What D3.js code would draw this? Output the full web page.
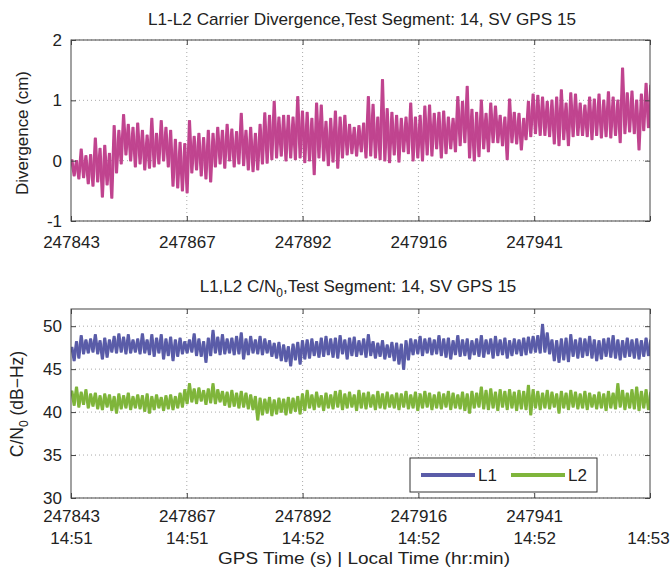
<!DOCTYPE html>
<html>
<head>
<meta charset="utf-8">
<script src="https://cdn.jsdelivr.net/npm/d3@7"></script>
<style>
  body { margin: 0; background: #fff; }
  text { font-family: "Liberation Sans", Arial, sans-serif; fill: #222; }
</style>
</head>
<body>
<div class="root"></div>
<script>
// GPS time of first sample (s); one high and one low reading per second
const t0 = 247843;

// L1-L2 carrier divergence (cm), upper / lower swing for each second
const divHigh = [0.02, 0.0, 0.19, 0.08, 0.1, 0.37, 0.2, 0.25, 0.12, 0.58,
  0.5, 0.76, 0.6, 0.55, 0.62, 0.5, 0.42, 0.7, 0.45, 0.66,
  0.55, 0.5, 0.35, 0.3, 0.28, 0.66, 0.4, 0.45, 0.38, 0.5,
  0.45, 0.55, 0.5, 0.6, 0.52, 0.48, 0.78, 0.5, 0.55, 0.45,
  0.6, 0.79, 0.75, 0.98, 0.72, 0.75, 0.75, 0.72, 1.06, 0.82,
  0.8, 0.7, 0.95, 0.92, 0.65, 0.7, 0.82, 0.72, 0.75, 0.6,
  0.55, 0.58, 0.62, 1.06, 0.93, 0.72, 1.34, 0.86, 0.8, 0.75,
  0.7, 0.72, 0.95, 0.72, 0.75, 0.9, 0.92, 0.78, 0.8, 0.82,
  0.72, 0.7, 1.06, 0.98, 1.23, 0.85, 0.8, 1.0, 0.78, 0.95,
  0.9, 0.75, 0.72, 1.02, 0.8, 0.78, 0.7, 0.98, 1.1, 1.08,
  1.05, 0.98, 1.0, 1.05, 1.17, 0.95, 1.12, 1.1, 0.95, 0.92,
  1.05, 1.02, 1.1, 1.0, 1.14, 1.05, 1.0, 1.53, 1.12, 1.15,
  1.0, 1.1, 1.28, 1.25];
const divLow = [-0.25, -0.3, -0.28, -0.38, -0.42, -0.35, -0.6, -0.4, -0.62, -0.2,
  -0.05, 0.1, 0.0, -0.1, -0.05, -0.15, -0.12, -0.1, -0.05, 0.0,
  -0.1, -0.42, -0.45, -0.5, -0.53, -0.2, -0.15, -0.25, -0.3, -0.35,
  -0.1, -0.05, -0.12, 0.0, -0.1, -0.05, -0.08, -0.15, -0.18, -0.15,
  -0.05, -0.04, 0.02, 0.05, 0.08, 0.0, 0.05, 0.02, 0.05, -0.03,
  0.0, -0.23, 0.05, 0.0, -0.08, -0.02, -0.12, 0.05, 0.1, 0.12,
  0.08, 0.15, 0.05, 0.08, 0.05, 0.02, 0.0, -0.03, 0.1, -0.02,
  0.15, 0.12, 0.0, 0.05, 0.0, 0.1, 0.08, 0.2, 0.05, 0.12,
  0.2, 0.15, 0.25, 0.3, 0.05, 0.0, 0.07, 0.2, 0.15, 0.3,
  0.3, 0.25, 0.02, 0.3, 0.28, 0.18, 0.35, 0.4, 0.45, 0.42,
  0.42, 0.4, 0.28, 0.25, 0.35, 0.25, 0.4, 0.42, 0.42, 0.4,
  0.35, 0.42, 0.38, 0.4, 0.38, 0.42, 0.3, 0.45, 0.48, 0.45,
  0.18, 0.5, 0.55, 0.6];

// C/N0 (dB-Hz), upper / lower swing for each second
const l1High = [47.6, 48.2, 48.9, 48.4, 48.5, 49.0, 48.3, 48.6, 48.4, 48.8,
  49.1, 48.7, 49.0, 48.4, 48.5, 49.1, 48.4, 49.0, 48.6, 49.0,
  48.5, 48.7, 48.4, 48.6, 48.2, 48.4, 49.1, 48.5, 48.2, 48.6,
  49.5, 48.7, 49.0, 48.5, 48.6, 48.8, 49.2, 48.5, 48.8, 48.4,
  48.8, 48.5, 48.3, 48.0, 48.1, 47.8, 47.6, 47.9, 48.1, 48.3,
  48.4, 48.5, 48.2, 48.6, 48.8, 48.5, 48.6, 48.9, 48.4, 48.6,
  48.7, 48.3, 48.5, 49.0, 48.2, 48.0, 48.3, 47.8, 48.1, 48.0,
  47.9, 48.3, 48.5, 48.4, 48.8, 48.5, 48.6, 48.4, 48.9, 48.5,
  48.6, 48.3, 48.9, 48.4, 48.5, 48.3, 48.5, 48.9, 48.4, 48.5,
  48.8, 48.4, 48.6, 48.3, 48.5, 48.4, 48.6, 48.7, 48.8, 48.9,
  50.2, 49.2, 48.4, 48.3, 48.5, 48.6, 49.0, 48.4, 48.6, 48.5,
  48.8, 48.4, 48.3, 48.5, 48.6, 48.9, 48.4, 48.3, 48.6, 48.4,
  48.5, 48.3, 48.6, 48.4];
const l1Low = [46.0, 46.3, 46.8, 46.9, 47.0, 46.8, 46.2, 46.4, 47.0, 46.9,
  47.0, 46.8, 46.9, 47.0, 46.8, 46.9, 46.7, 46.5, 46.9, 46.2,
  46.6, 46.0, 46.5, 46.8, 46.9, 47.0, 46.6, 46.5, 45.8, 46.6,
  46.9, 46.7, 46.8, 46.9, 46.7, 46.8, 46.2, 46.7, 46.9, 46.8,
  46.7, 46.9, 46.5, 46.3, 46.0, 45.9, 45.4, 46.1, 45.6, 46.2,
  46.3, 46.6, 46.4, 46.5, 46.7, 46.4, 46.3, 46.8, 46.2, 46.6,
  46.5, 46.7, 46.4, 46.6, 46.3, 46.5, 46.2, 46.4, 46.0, 45.6,
  45.0, 46.1, 46.7, 46.8, 46.6, 46.9, 46.7, 46.8, 46.6, 46.4,
  46.2, 46.7, 46.5, 46.6, 46.2, 46.7, 46.5, 46.4, 46.8, 46.3,
  46.6, 46.7, 46.3, 46.6, 46.8, 46.6, 46.7, 46.9, 47.0, 46.9,
  47.0, 46.8, 46.0, 45.8, 46.1, 45.9, 46.5, 46.3, 46.4, 46.6,
  46.3, 46.0, 46.2, 46.5, 46.4, 46.3, 46.1, 46.4, 46.5, 46.3,
  46.2, 46.5, 46.6, 46.8];
const l2High = [42.5, 42.9, 42.3, 42.6, 42.1, 42.2, 41.9, 42.1, 42.0, 41.8,
  42.1, 41.9, 42.2, 41.8, 42.0, 41.9, 42.1, 41.8, 42.0, 41.7,
  41.9, 42.0, 41.8, 42.2, 42.6, 43.3, 42.7, 42.8, 42.5, 42.7,
  43.3, 42.6, 42.4, 42.3, 42.5, 42.2, 42.4, 42.2, 42.0, 41.8,
  41.6, 41.5, 41.7, 41.4, 41.6, 41.5, 41.7, 41.6, 41.8, 42.1,
  42.5, 42.0, 42.3, 41.9, 42.2, 42.0, 42.4, 42.5, 42.1, 42.3,
  42.0, 42.5, 42.2, 42.3, 42.0, 42.4, 42.1, 42.3, 42.0, 42.2,
  42.1, 42.4, 42.0, 42.3, 42.1, 42.4, 42.2, 42.0, 42.3, 42.1,
  42.4, 42.2, 42.0, 42.3, 42.1, 42.4, 42.2, 42.9, 42.5, 42.7,
  42.3, 42.6, 42.4, 42.6, 42.3, 42.5, 42.4, 43.1, 42.6, 42.4,
  42.2, 42.5, 42.3, 42.1, 42.4, 42.2, 42.5, 42.3, 42.1, 42.4,
  42.2, 42.0, 42.3, 42.1, 42.4, 42.2, 43.3, 42.5, 42.2, 42.6,
  42.9, 42.4, 42.6, 42.3];
const l2Low = [40.8, 40.6, 40.9, 40.5, 40.7, 40.4, 40.3, 40.6, 40.2, 39.9,
  40.4, 40.5, 40.3, 40.5, 40.4, 40.1, 39.9, 40.3, 40.5, 40.2,
  40.4, 40.3, 40.5, 40.6, 41.0, 41.2, 41.0, 41.3, 40.9, 41.1,
  41.0, 41.2, 40.8, 40.6, 40.7, 40.5, 40.6, 40.4, 40.3, 39.1,
  39.7, 39.9, 39.6, 39.8, 40.0, 39.7, 39.9, 40.1, 39.8, 40.2,
  40.5, 40.3, 40.6, 40.2, 40.5, 40.4, 40.6, 40.3, 40.5, 40.6,
  40.2, 40.5, 40.4, 40.6, 40.3, 40.5, 40.4, 40.6, 40.5, 40.3,
  40.6, 40.4, 40.5, 40.2, 40.5, 40.6, 40.3, 40.5, 40.4, 40.6,
  40.3, 40.5, 40.4, 40.2, 39.9, 40.5, 40.6, 40.4, 40.3, 40.5,
  40.2, 40.6, 40.3, 40.5, 40.2, 40.4, 40.3, 39.7, 40.5, 40.3,
  40.5, 40.4, 40.6, 39.9, 40.5, 40.3, 40.6, 40.4, 40.5, 40.3,
  40.6, 40.4, 40.5, 40.2, 40.5, 40.4, 40.6, 40.3, 40.5, 40.4,
  40.2, 40.5, 40.3, 40.5];

// Axis ticks and labels
const xTicks = [247843, 247867.6, 247892.2, 247916.8, 247941.4, 247966];
const gpsLabels = ["247843", "247867", "247892", "247916", "247941", ""];
const localLabels = ["14:51", "14:51", "14:52", "14:52", "14:52", "14:53"];
const divTicks = [-1, 0, 1, 2];
const cnTicks = [30, 35, 40, 45, 50];
const seriesNames = ["L1", "L2"];
const colors = { div: "#c0448f", L1: "#5a5ca8", L2: "#7fb53b" };

// Page and panel geometry
var width = 670, height = 569;
var left = 71, right = 650;
var top1 = { y0: 40, y1: 221 }, top2 = { y0: 309, y1: 498 };

const xScale = d3.scaleLinear().domain([247843, 247966]).range([left, right]);
const yDiv = d3.scaleLinear().domain([-1, 2]).range([top1.y1, top1.y0]);
const yCn = d3.scaleLinear().domain([30, 52]).range([top2.y1, top2.y0]);

// turn the hi/lo readings into one sample list
function samples(hi, lo) {
  var out = [];
  hi.forEach(function (h, i) {
    out.push({ t: t0 + i, v: h });
    out.push({ t: t0 + i + 0.5, v: lo[i] });
  });
  return out;
}

var svg = d3.select(".root").append("svg")
  .attr("width", width)
  .attr("height", height);

svg.append("rect").attr("width", width).attr("height", height).attr("fill", "#fff");

// clip rect and dotted grid for one panel
function panel(id, yScale, yTicks, box) {
  var g = svg.append("g");

  g.append("clipPath").attr("id", id)
    .append("rect")
    .attr("x", left).attr("y", box.y0)
    .attr("width", right - left).attr("height", box.y1 - box.y0);

  g.selectAll(".vgrid").data(xTicks.slice(1, -1)).join("line")
    .attr("x1", d => xScale(d)).attr("x2", d => xScale(d))
    .attr("y1", box.y0).attr("y2", box.y1)
    .attr("stroke", "#aaa").attr("stroke-width", 1)
    .attr("stroke-dasharray", "1,3");
  g.selectAll(".hgrid").data(yTicks).join("line")
    .attr("x1", left).attr("x2", right)
    .attr("y1", d => yScale(d)).attr("y2", d => yScale(d))
    .attr("stroke", "#aaa").attr("stroke-width", 1)
    .attr("stroke-dasharray", "1,3");

  return g;
}

// dense band: the sample trace drawn a few times, a fraction of a sample apart
function trace(g, clip, data, yScale, color) {
  var line = d3.line().x(d => xScale(d.t)).y(d => yScale(d.v));
  var tg = g.append("g").attr("clip-path", "url(#" + clip + ")");
  [0, 0.8, 1.6].forEach(function (dx) {
    tg.append("path").datum(data)
      .attr("transform", "translate(" + dx + ",0)")
      .attr("fill", "none")
      .attr("stroke", color)
      .attr("stroke-width", 1.5)
      .attr("stroke-linejoin", "round")
      .attr("d", line);
  });
}

function drawBox(g, yScale, yTicks, box) {
  g.append("rect")
    .attr("x", left).attr("y", box.y0)
    .attr("width", right - left).attr("height", box.y1 - box.y0)
    .attr("fill", "none").attr("stroke", "#444").attr("stroke-width", 1);

  // inward ticks on bottom, top and right
  g.append("g").attr("transform", "translate(0," + box.y1 + ")")
    .call(d3.axisBottom(xScale).tickValues(xTicks).tickSize(-5).tickFormat(""))
    .call(a => a.select(".domain").remove());
  g.append("g").attr("transform", "translate(0," + box.y0 + ")")
    .call(d3.axisTop(xScale).tickValues(xTicks).tickSize(-5).tickFormat(""))
    .call(a => a.select(".domain").remove());
  g.append("g").attr("transform", "translate(" + right + ",0)")
    .call(d3.axisRight(yScale).tickValues(yTicks).tickSize(-5).tickFormat(""))
    .call(a => a.select(".domain").remove());

  // left axis with labels
  g.append("g").attr("transform", "translate(" + left + ",0)")
    .call(d3.axisLeft(yScale).tickValues(yTicks).tickSize(-5).tickPadding(9)
      .tickFormat(d => String(d)))
    .call(a => a.select(".domain").remove())
    .selectAll("text")
    .attr("font-family", "Liberation Sans, Arial, sans-serif")
    .attr("font-size", 17).attr("fill", "#222");
  g.selectAll(".tick line").attr("stroke", "#444");
}

// ----- top panel: divergence -----
var g1 = panel("clip1", yDiv, divTicks, top1);
trace(g1, "clip1", samples(divHigh, divLow), yDiv, colors.div);
drawBox(g1, yDiv, divTicks, top1);

g1.append("g").attr("transform", "translate(0," + top1.y1 + ")")
  .call(d3.axisBottom(xScale).tickValues(xTicks).tickSize(0).tickPadding(15)
    .tickFormat((d, i) => gpsLabels[i]))
  .call(a => a.select(".domain").remove())
  .selectAll("text")
  .attr("font-family", "Liberation Sans, Arial, sans-serif")
  .attr("font-size", 17).attr("fill", "#222");

svg.append("text")
  .attr("x", 362).attr("y", 25)
  .attr("text-anchor", "middle")
  .attr("font-size", 17)
  .attr("textLength", 428).attr("lengthAdjust", "spacingAndGlyphs")
  .text("L1-L2 Carrier Divergence,Test Segment: 14, SV GPS 15");

svg.append("text")
  .attr("transform", "translate(28,133) rotate(-90)")
  .attr("text-anchor", "middle")
  .attr("font-size", 17)
  .attr("textLength", 124).attr("lengthAdjust", "spacingAndGlyphs")
  .text("Divergence (cm)");

// ----- bottom panel: C/N0 -----
var g2 = panel("clip2", yCn, cnTicks, top2);
trace(g2, "clip2", samples(l1High, l1Low), yCn, colors.L1);
trace(g2, "clip2", samples(l2High, l2Low), yCn, colors.L2);
drawBox(g2, yCn, cnTicks, top2);

var xl = g2.append("g").attr("transform", "translate(0," + top2.y1 + ")")
  .call(d3.axisBottom(xScale).tickValues(xTicks).tickSize(0).tickFormat(""))
  .call(a => a.select(".domain").remove());
xl.selectAll(".tick text")
  .attr("font-family", "Liberation Sans, Arial, sans-serif")
  .attr("font-size", 17).attr("fill", "#222")
  .attr("dy", null).attr("y", 0)
  .each(function (d, i) {
    var t = d3.select(this);
    t.append("tspan").attr("x", 0).attr("y", 24).text(gpsLabels[i]);
    t.append("tspan").attr("x", i === xTicks.length - 1 ? -2 : 0).attr("y", 46).text(localLabels[i]);
  });

var title2 = svg.append("text")
  .attr("x", 358).attr("y", 292)
  .attr("text-anchor", "middle")
  .attr("font-size", 17);
title2.append("tspan").text("L1,L2 C/N");
title2.append("tspan").attr("dy", 5).attr("font-size", 12).text("0");
title2.append("tspan").attr("dy", -5).text(",Test Segment: 14, SV GPS 15");

var ylab2 = svg.append("text")
  .attr("transform", "translate(23,404) rotate(-90)")
  .attr("text-anchor", "middle")
  .attr("font-size", 17.5);
ylab2.append("tspan").text("C/N");
ylab2.append("tspan").attr("dy", 5).attr("font-size", 12).text("0");
ylab2.append("tspan").attr("dy", -5).text(" (dB\u2212Hz)");

svg.append("text")
  .attr("x", 364).attr("y", 564)
  .attr("text-anchor", "middle")
  .attr("font-size", 17)
  .attr("textLength", 292).attr("lengthAdjust", "spacingAndGlyphs")
  .text("GPS Time (s)  |  Local Time (hr:min)");

// legend
var lg = svg.append("g");
lg.append("rect")
  .attr("x", 410).attr("y", 458).attr("width", 187).attr("height", 34)
  .attr("fill", "#fff").attr("stroke", "#333").attr("stroke-width", 1);
seriesNames.forEach(function (name, i) {
  var x0 = 421 + i * 90;
  lg.append("line")
    .attr("x1", x0).attr("x2", x0 + 54)
    .attr("y1", 475).attr("y2", 475)
    .attr("stroke", colors[name]).attr("stroke-width", 4);
  lg.append("text")
    .attr("x", x0 + 57).attr("y", 481)
    .attr("font-size", 17)
    .text(name);
});
</script>
</body>
</html>
